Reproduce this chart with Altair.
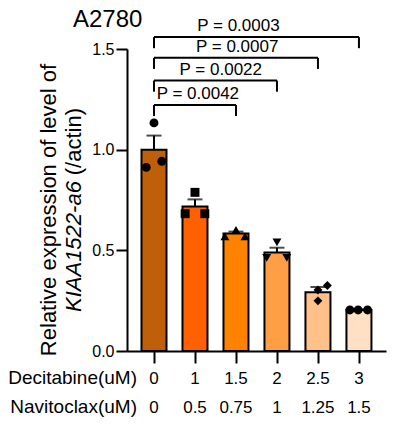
import altair as alt
import pandas as pd

# ---- data ----
decitabine = ["0", "1", "1.5", "2", "2.5", "3"]
navitoclax = ["0", "0.5", "0.75", "1", "1.25", "1.5"]
means = [1.0, 0.718, 0.583, 0.489, 0.292, 0.204]
sems = [0.07, 0.035, 0.01, 0.024, 0.026, 0.003]
bar_colors = ["#BF5F0A", "#FF6000", "#FF8200", "#FF9F45", "#FFC08A", "#FFE0C4"]
shapes = ["circle", "square", "triangle-up", "triangle-down", "diamond", "circle"]

pt_group = [0, 0, 0, 1, 1, 1, 2, 2, 2, 3, 3, 3, 4, 4, 4, 5, 5, 5]
pt_dx = [0, -0.19, 0.19, 0, -0.24, 0.24, 0, -0.27, 0.22, 0, -0.25, 0.24,
         0, 0.23, 0, -0.22, -0.02, 0.21]
pt_val = [1.133, 0.912, 0.942, 0.788, 0.682, 0.682, 0.602, 0.569, 0.569,
          0.539, 0.463, 0.463, 0.303, 0.325, 0.249, 0.204, 0.204, 0.204]

cmp_from = [0, 0, 0, 0]
cmp_to = [2, 3, 4, 5]
cmp_p = ["P = 0.0042", "P = 0.0022", "P = 0.0007", "P = 0.0003"]
cmp_level = [1.222, 1.343, 1.456, 1.559]
cmp_label_x = [1.07, 1.63, 2.03, 2.06]

FONT = "Liberation Sans"
LEG = 0.055

idx = list(range(len(means)))
bars = pd.DataFrame({"i": idx, "m": means,
                     "top": [m + s for m, s in zip(means, sems)],
                     "dec": decitabine, "nav": navitoclax})
pts = pd.DataFrame({"g": pt_group,
                    "px": [g + d for g, d in zip(pt_group, pt_dx)],
                    "v": pt_val})
cmp = pd.DataFrame({"x1": cmp_from, "x2": cmp_to, "lvl": cmp_level,
                    "low": [l - LEG for l in cmp_level],
                    "lx": cmp_label_x, "p": cmp_p})

xscale = alt.Scale(domain=[-0.6585, 5.66], nice=False, zero=False, padding=0)
yscale = alt.Scale(domain=[0, 1.5], nice=False, padding=0)
xaxis = alt.Axis(values=idx, labels=False, tickSize=12, grid=False, title=None)
yaxis = alt.Axis(values=[0, 0.5, 1.0, 1.5], format=".1f", tickSize=11,
                 labelPadding=2, grid=False, title=None)


def X(field):
    return alt.X(field, scale=xscale, axis=xaxis, title=None)


def Y(field):
    return alt.Y(field, scale=yscale, axis=yaxis, title=None)


base = alt.Chart(bars)

bar_layer = base.mark_bar(width=25, stroke="black", strokeWidth=2).encode(
    x=X("i:Q"), y=Y("m:Q"),
    color=alt.Color("i:N", scale=alt.Scale(domain=idx, range=bar_colors), legend=None),
)

err = base.mark_rule(color="black", strokeWidth=2).encode(
    x=X("i:Q"), y=Y("m:Q"), y2="top:Q",
)
cap = base.mark_tick(orient="horizontal", size=15, thickness=2, color="black").encode(
    x=X("i:Q"), y=Y("top:Q"),
)

points = alt.Chart(pts).mark_point(filled=True, size=80, opacity=1, color="black").encode(
    x=X("px:Q"), y=Y("v:Q"),
    shape=alt.Shape("g:N", scale=alt.Scale(domain=idx, range=shapes), legend=None),
)

cbase = alt.Chart(cmp)
hline = cbase.mark_rule(color="black", strokeWidth=2).encode(
    x=X("x1:Q"), x2="x2:Q", y=Y("lvl:Q"),
)
lleg = cbase.mark_rule(color="black", strokeWidth=2).encode(
    x=X("x1:Q"), y=Y("lvl:Q"), y2="low:Q",
)
rleg = cbase.mark_rule(color="black", strokeWidth=2).encode(
    x=X("x2:Q"), y=Y("lvl:Q"), y2="low:Q",
)
plabel = cbase.mark_text(font=FONT, fontSize=17, baseline="middle", dy=-11,
                         color="black").encode(
    x=X("lx:Q"), y=Y("lvl:Q"), text="p:N",
)

row1 = base.mark_text(font=FONT, fontSize=17, baseline="alphabetic", color="black").encode(
    x=X("i:Q"), y=alt.value(335), text="dec:N")
row2 = base.mark_text(font=FONT, fontSize=17, baseline="alphabetic", color="black").encode(
    x=X("i:Q"), y=alt.value(364), text="nav:N")

hdr = pd.DataFrame({"t": ["Decitabine(uM)", "Navitoclax(uM)"], "r": [0, 1]})
hdr1 = alt.Chart(hdr).transform_filter("datum.r == 0").mark_text(
    font=FONT, fontSize=19, align="right", baseline="alphabetic", color="black").encode(
    x=alt.value(10), y=alt.value(335), text="t:N")
hdr2 = alt.Chart(hdr).transform_filter("datum.r == 1").mark_text(
    font=FONT, fontSize=19, align="right", baseline="alphabetic", color="black").encode(
    x=alt.value(10), y=alt.value(364), text="t:N")

ttl = pd.DataFrame({"t": ["A2780"]})
title = alt.Chart(ttl).mark_text(font=FONT, fontSize=24, align="left",
                                 baseline="alphabetic", color="black").encode(
    x=alt.value(-54), y=alt.value(-22), text="t:N")

yt = pd.DataFrame({"a": ["Relative expression of level of"],
                   "b": ["KIAA1522-a6"], "c": ["(/actin)"]})
yt1 = alt.Chart(yt).mark_text(font=FONT, fontSize=22, angle=270, align="center",
                              baseline="alphabetic", color="black").encode(
    x=alt.value(-71), y=alt.value(161), text="a:N")
yt2 = alt.Chart(yt).mark_text(font=FONT, fontSize=22, angle=270, align="left",
                              fontStyle="italic", baseline="alphabetic", color="black").encode(
    x=alt.value(-46), y=alt.value(263), text="b:N")
yt3 = alt.Chart(yt).mark_text(font=FONT, fontSize=22, angle=270, align="right",
                              baseline="alphabetic", color="black").encode(
    x=alt.value(-46), y=alt.value(59), text="c:N")

chart = alt.layer(
    bar_layer, err, cap, points, hline, lleg, rleg, plabel,
    row1, row2, hdr1, hdr2, title, yt1, yt2, yt3
).properties(
    width=259, height=302,
    autosize=alt.AutoSizeParams(type="none"),
    padding={"left": 119, "top": 41, "right": 1, "bottom": 67},
).configure_view(stroke=None).configure_axis(
    domainColor="black", domainWidth=2, tickColor="black", tickWidth=2,
    labelColor="black", labelFont=FONT, labelFontSize=16, grid=False,
)

chart.save("out.html", embed_options={"renderer": "svg", "actions": False})
